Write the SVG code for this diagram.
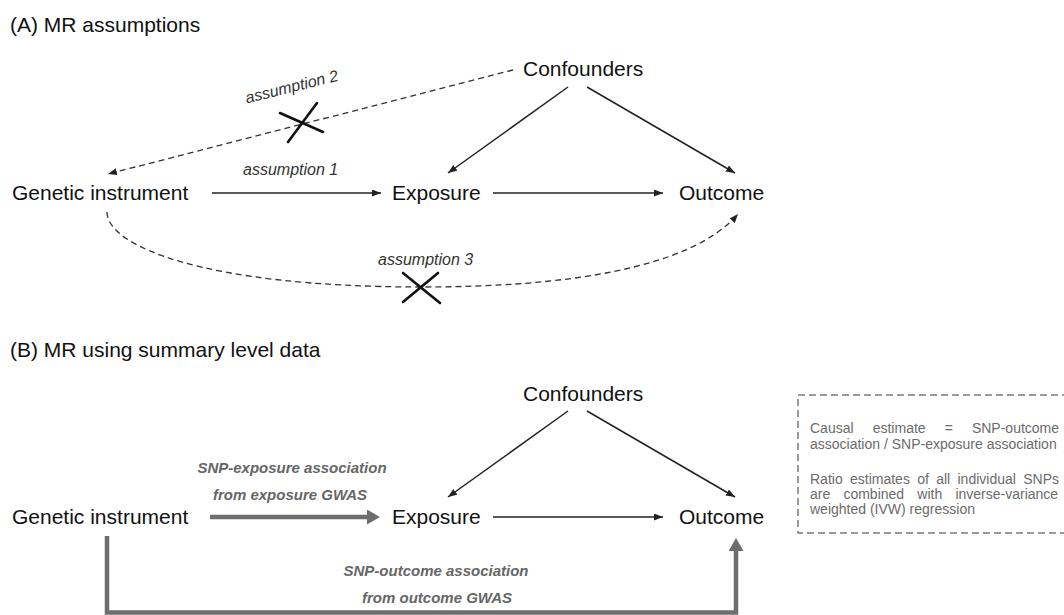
<svg xmlns="http://www.w3.org/2000/svg" width="1064" height="615" viewBox="0 0 1064 615">
<style>
.t{font-family:"Liberation Sans",Arial,sans-serif;font-size:21px;fill:#111}
.lab{font-family:"Liberation Sans",Arial,sans-serif;font-size:16px;font-style:italic;fill:#333}
.glab{font-family:"Liberation Sans",Arial,sans-serif;font-size:15px;font-style:italic;font-weight:bold;fill:#666}
.box{font-family:"Liberation Sans",Arial,sans-serif;font-size:14px;fill:#6b6b6b}
.ln{stroke:#222;stroke-width:1.5;fill:none}
.dash{stroke:#333;stroke-width:1.3;fill:none;stroke-dasharray:6 4}
.x{stroke:#111;stroke-width:2.6;stroke-linecap:round}
.thick{stroke:#6e6e6e;stroke-width:4.5;fill:none}
</style>
<defs>
<marker id="ah" markerUnits="userSpaceOnUse" markerWidth="9" markerHeight="7" refX="9" refY="3.5" orient="auto"><path d="M0,0 L9,3.5 L0,7 z" fill="#222"/></marker>
<marker id="th" markerUnits="userSpaceOnUse" markerWidth="13" markerHeight="15" refX="3" refY="7.5" orient="auto"><path d="M0,0 L13,7.5 L0,15 z" fill="#6e6e6e"/></marker>
</defs>
<rect width="1064" height="615" fill="#fff"/>

<g id="titleA"><text class="t" x="10" y="32">(A) MR assumptions</text></g>
<g id="titleB"><text class="t" x="10" y="357">(B) MR using summary level data</text></g>

<g id="connectors">
  <line class="ln" x1="212" y1="193" x2="381" y2="193" marker-end="url(#ah)"/>
  <line class="ln" x1="493" y1="193" x2="663" y2="193" marker-end="url(#ah)"/>
  <line class="ln" x1="568" y1="87" x2="448" y2="173" marker-end="url(#ah)"/>
  <line class="ln" x1="587" y1="87" x2="735" y2="173" marker-end="url(#ah)"/>
  <line class="dash" x1="513" y1="70" x2="108" y2="174" marker-end="url(#ah)"/>
  <path class="dash" d="M107,212 C107,245 200,287 422,287 C560,287 690,270 738,214" marker-end="url(#ah)"/>
  <line class="x" x1="280" y1="113" x2="323" y2="132"/>
  <line class="x" x1="288" y1="142" x2="317" y2="103"/>
  <line class="x" x1="403" y1="273" x2="440" y2="303"/>
  <line class="x" x1="403" y1="302" x2="438" y2="273"/>
  <text class="lab" x="243" y="175">assumption 1</text>
  <text class="lab" x="293" y="92" text-anchor="middle" transform="rotate(-14 293 92)">assumption 2</text>
  <text class="lab" x="378" y="265">assumption 3</text>

  <line class="ln" x1="568" y1="411" x2="448" y2="497" marker-end="url(#ah)"/>
  <line class="ln" x1="587" y1="411" x2="735" y2="497" marker-end="url(#ah)"/>
  <line class="ln" x1="493" y1="517" x2="663" y2="517" marker-end="url(#ah)"/>
  <line class="thick" x1="210" y1="517" x2="370" y2="517" marker-end="url(#th)"/>
  <path class="thick" d="M107,536 V612.5 H736 V548" marker-end="url(#th)"/>
  <text class="glab" x="292" y="473" text-anchor="middle">SNP-exposure association</text>
  <text class="glab" x="290" y="500" text-anchor="middle">from exposure GWAS</text>
  <text class="glab" x="436" y="576" text-anchor="middle">SNP-outcome association</text>
  <text class="glab" x="437" y="603" text-anchor="middle">from outcome GWAS</text>
</g>

<g id="confoundersA"><text class="t" x="523" y="76">Confounders</text></g>
<g id="geneticA"><text class="t" x="12" y="200">Genetic instrument</text></g>
<g id="exposureA"><text class="t" x="392" y="200">Exposure</text></g>
<g id="outcomeA"><text class="t" x="679" y="200">Outcome</text></g>

<g id="confoundersB"><text class="t" x="523" y="401">Confounders</text></g>
<g id="geneticB"><text class="t" x="12" y="524">Genetic instrument</text></g>
<g id="exposureB"><text class="t" x="392" y="524">Exposure</text></g>
<g id="outcomeB"><text class="t" x="679" y="524">Outcome</text></g>

<g id="notebox">
  <rect x="798" y="395" width="280" height="138" fill="none" stroke="#7a7a7a" stroke-width="1.5" stroke-dasharray="7 4"/>
  <text class="box" y="433"><tspan x="810">Causal</tspan><tspan x="872.7">estimate</tspan><tspan x="944.7">=</tspan><tspan x="971.9">SNP-outcome</tspan></text>
  <text class="box" x="810" y="449">association / SNP-exposure association</text>
  <text class="box" y="484"><tspan x="810">Ratio</tspan><tspan x="850">estimates</tspan><tspan x="917.2">of</tspan><tspan x="936.2">all</tspan><tspan x="957.5">individual</tspan><tspan x="1023.2">SNPs</tspan></text>
  <text class="box" y="499"><tspan x="810">are</tspan><tspan x="843.4">combined</tspan><tspan x="917.3">with</tspan><tspan x="955.4">inverse-variance</tspan></text>
  <text class="box" x="810" y="514">weighted (IVW) regression</text>
</g>
</svg>
